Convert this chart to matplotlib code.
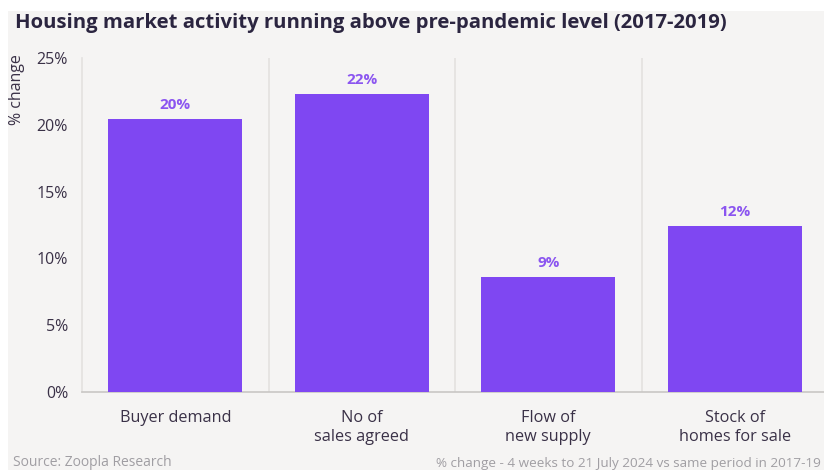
import matplotlib.pyplot as plt
import numpy as np
from matplotlib.patches import Rectangle

plt.rcParams['font.family'] = ['Open Sans', 'DejaVu Sans']

# data: % change vs 2017-2019 average
categories = ["Buyer demand", "No of\nsales agreed", "Flow of\nnew supply", "Stock of\nhomes for sale"]
change_pct = [20.4, 22.3, 8.6, 12.4]
yticks = [0, 5, 10, 15, 20, 25]

bar_col = "#7F47F2"
label_col = "#8B55F0"
text_col = "#3A3147"
bg = "#F5F4F3"

fig = plt.figure(figsize=(8.24, 4.7), dpi=100)
fig.patch.set_facecolor("white")
# grey panel behind everything
fig.patches.append(Rectangle((8/824, 0), 1, 459/470, transform=fig.transFigure,
                             facecolor=bg, edgecolor="none", zorder=-10))

ax = fig.add_axes([82/824, 1-392/470, 746/824, 334/470])
ax.set_facecolor(bg)

x = np.arange(len(categories))
ax.bar(x, change_pct, width=0.72, color=bar_col, zorder=3)
for xi, v in zip(x, change_pct):
    ax.text(xi, v + 0.55, f"{round(v)}%", ha="center", va="bottom",
            color=label_col, fontsize=11, fontweight="bold", zorder=4)

ax.set_xlim(-0.5, len(categories) - 0.5)
ax.set_ylim(0, 25)
ax.set_yticks(yticks)
ax.set_yticklabels([f"{t}%" for t in yticks])
ax.set_xticks(x)
ax.set_xticklabels(categories, linespacing=1.25)

# separators between categories
for b in np.arange(0.5, len(categories) - 0.5, 1):
    ax.axvline(b, color="#E3E1DF", lw=1.2, zorder=1)

for s in ["top", "right"]:
    ax.spines[s].set_visible(False)
ax.spines["left"].set_color("#E3E1DF")
ax.spines["left"].set_linewidth(1.2)
ax.spines["bottom"].set_color("#C9C7C5")
ax.spines["bottom"].set_linewidth(1.2)
ax.tick_params(axis="both", length=0, colors=text_col)
ax.tick_params(axis="y", pad=10, labelsize=11.5)
ax.tick_params(axis="x", pad=13, labelsize=11.7)

fig.text(17/824, 1-90/470, "% change", rotation=90, ha="center", va="center",
         color=text_col, fontsize=11.5)
fig.text(15/824, 1-23/470, "Housing market activity running above pre-pandemic level (2017-2019)",
         ha="left", va="center", color="#2B2540", fontsize=14.6, fontweight="bold")
fig.text(13/824, 1-463/470, "Source: Zoopla Research", ha="left", va="center",
         color="#A09EA3", fontsize=10)
fig.text(821/824, 1-463/470, "% change - 4 weeks to 21 July 2024 vs same period in 2017-19",
         ha="right", va="center", color="#A09EA3", fontsize=9.7)

fig.savefig("out.png", dpi=100, facecolor=fig.get_facecolor())
